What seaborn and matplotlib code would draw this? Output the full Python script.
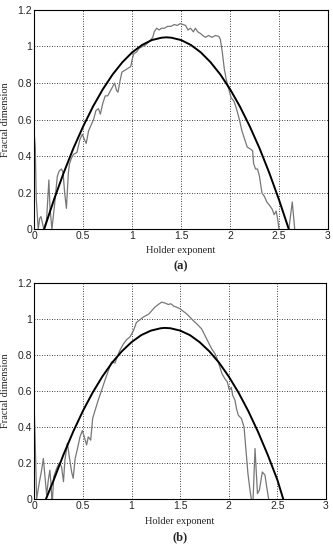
import numpy as np
import pandas as pd
import matplotlib
matplotlib.use('Agg')
import matplotlib.pyplot as plt
import seaborn as sns

# fitted parabola, panel (a)
fit_a_x = [0.1, 0.2, 0.3, 0.4, 0.5, 0.6, 0.7, 0.8, 0.9, 1.0, 1.1, 1.2, 1.3, 1.35,
           1.4, 1.5, 1.6, 1.7, 1.8, 1.9, 2.0, 2.1, 2.2, 2.3, 2.4, 2.5, 2.6]
fit_a_y = [0.0, 0.161, 0.309, 0.444, 0.564, 0.672, 0.766, 0.847, 0.914, 0.968, 1.008,
           1.035, 1.048, 1.05, 1.048, 1.035, 1.008, 0.968, 0.914, 0.847, 0.766, 0.672,
           0.564, 0.444, 0.309, 0.161, 0.0]

# measured spectrum, panel (a)
raw_a_x = [0.0, 0.01, 0.02, 0.04, 0.055, 0.068, 0.085, 0.098, 0.125, 0.149, 0.16, 0.18,
           0.19, 0.21, 0.235, 0.255, 0.278, 0.294, 0.31, 0.328, 0.348, 0.36, 0.38, 0.40,
           0.435, 0.465, 0.49, 0.505, 0.53, 0.555, 0.58, 0.605, 0.63, 0.655, 0.675, 0.70,
           0.725, 0.75, 0.78, 0.80, 0.82, 0.84, 0.855, 0.875, 0.895, 0.925, 0.955, 0.985,
           1.0, 1.015, 1.045, 1.07, 1.105, 1.14, 1.18, 1.21, 1.225, 1.25, 1.275, 1.30,
           1.33, 1.36, 1.395, 1.43, 1.46, 1.49, 1.52, 1.545, 1.57, 1.595, 1.625, 1.645,
           1.67, 1.70, 1.72, 1.75, 1.78, 1.815, 1.85, 1.885, 1.90, 1.92, 1.94, 1.96,
           1.985, 2.01, 2.04, 2.065, 2.095, 2.12, 2.15, 2.175, 2.205, 2.23, 2.24, 2.26,
           2.28, 2.30, 2.325, 2.35, 2.375, 2.405, 2.43, 2.45, 2.47, 2.485, 2.50, 2.53,
           2.58, 2.60, 2.635, 2.66, 2.68]
raw_a_y = [0.52, 0.45, 0.17, 0.0, 0.06, 0.07, 0.03, 0.0, 0.05, 0.27, 0.12, 0.0,
           0.05, 0.15, 0.29, 0.32, 0.33, 0.31, 0.2, 0.115, 0.31, 0.36, 0.39, 0.41,
           0.42, 0.49, 0.52, 0.5, 0.47, 0.54, 0.57, 0.6, 0.65, 0.66, 0.63, 0.69,
           0.73, 0.73, 0.76, 0.78, 0.8, 0.76, 0.75, 0.81, 0.86, 0.87, 0.88, 0.89,
           0.93, 0.96, 0.97, 0.99, 1.0, 1.01, 1.03, 1.05, 1.08, 1.1, 1.09, 1.1,
           1.1, 1.11, 1.11, 1.12, 1.115, 1.125, 1.12, 1.115, 1.09, 1.1, 1.08, 1.1,
           1.08, 1.07, 1.06, 1.05, 1.06, 1.05, 1.06, 1.055, 1.04, 0.97, 0.88, 0.82,
           0.77, 0.72, 0.7, 0.66, 0.6, 0.54, 0.49, 0.45, 0.44, 0.43, 0.36, 0.33,
           0.33, 0.29, 0.2, 0.18, 0.15, 0.13, 0.11, 0.08, 0.1, 0.06, 0.0, -0.1,
           -0.05, 0.0, 0.15, 0.0, -0.1]

# fitted parabola, panel (b)
fit_b_x = [0.12, 0.2, 0.3, 0.4, 0.5, 0.6, 0.7, 0.8, 0.9, 1.0, 1.1, 1.2, 1.3, 1.34,
           1.4, 1.5, 1.6, 1.7, 1.8, 1.9, 2.0, 2.1, 2.2, 2.3, 2.4, 2.5, 2.56]
fit_b_y = [0.0, 0.106, 0.246, 0.374, 0.489, 0.591, 0.68, 0.757, 0.82, 0.871, 0.91,
           0.935, 0.948, 0.95, 0.948, 0.935, 0.91, 0.871, 0.82, 0.757, 0.68, 0.591,
           0.489, 0.374, 0.246, 0.106, 0.0]

# measured spectrum, panel (b)
raw_b_x = [0.0, 0.01, 0.024, 0.05, 0.075, 0.093, 0.113, 0.127, 0.144, 0.16, 0.17, 0.18,
           0.185, 0.2, 0.23, 0.257, 0.28, 0.3, 0.315, 0.34, 0.36, 0.384, 0.40, 0.42,
           0.44, 0.47, 0.494, 0.514, 0.538, 0.555, 0.58, 0.6, 0.624, 0.658, 0.69, 0.727,
           0.76, 0.795, 0.83, 0.853, 0.88, 0.915, 0.95, 0.984, 1.02, 1.05, 1.087, 1.12,
           1.155, 1.18, 1.21, 1.24, 1.275, 1.31, 1.344, 1.378, 1.405, 1.436, 1.464, 1.5,
           1.53, 1.567, 1.6, 1.635, 1.67, 1.72, 1.755, 1.79, 1.824, 1.858, 1.88, 1.91,
           1.93, 1.96, 1.985, 2.006, 2.026, 2.04, 2.064, 2.08, 2.098, 2.13, 2.157, 2.177,
           2.197, 2.218, 2.232, 2.24, 2.25, 2.27, 2.295, 2.315, 2.345, 2.372, 2.39, 2.41,
           2.43]
raw_b_y = [0.49, 0.3, 0.0, 0.087, 0.16, 0.225, 0.105, 0.022, 0.105, 0.16, 0.096, 0.0,
           -0.02, 0.124, 0.17, 0.2, 0.18, 0.096, 0.216, 0.31, 0.235, 0.15, 0.115, 0.225,
           0.27, 0.345, 0.38, 0.345, 0.3, 0.345, 0.327, 0.447, 0.49, 0.55, 0.6, 0.66,
           0.71, 0.76, 0.755, 0.79, 0.825, 0.86, 0.885, 0.9, 0.935, 0.98, 0.995, 1.01,
           1.02, 1.028, 1.047, 1.065, 1.08, 1.093, 1.088, 1.08, 1.084, 1.07, 1.065, 1.056,
           1.043, 1.028, 1.01, 0.99, 0.973, 0.945, 0.908, 0.87, 0.834, 0.807, 0.779, 0.73,
           0.696, 0.668, 0.65, 0.604, 0.62, 0.576, 0.548, 0.5, 0.465, 0.447, 0.4, 0.27,
           0.142, 0.05, 0.0, -0.03, 0.0, 0.28, 0.03, 0.05, 0.15, 0.133, 0.068, 0.0,
           -0.1]

panels = [
    ('(a)', raw_a_x, raw_a_y, fit_a_x, fit_a_y, [0.103, 0.583, 0.882, 0.399], 0.545, 0.516),
    ('(b)', raw_b_x, raw_b_y, fit_b_x, fit_b_y, [0.103, 0.0927, 0.876, 0.393], 0.051, 0.024),
]

sns.set_style('white')
plt.rcParams['font.family'] = ['Liberation Serif', 'DejaVu Serif']

fig = plt.figure(figsize=(3.33, 5.5), dpi=100)

for tag, rx, ry, fx, fy, pos, xl_y, tag_y in panels:
    ax = fig.add_axes(pos)
    raw = pd.DataFrame({'x': rx, 'y': ry})
    fit = pd.DataFrame({'x': fx, 'y': fy})
    sns.lineplot(data=raw, x='x', y='y', ax=ax, sort=False, color='#777777', lw=0.9)
    sns.lineplot(data=fit, x='x', y='y', ax=ax, sort=False, color='black', lw=1.4)
    ax.set_xlim(0, 3)
    ax.set_ylim(0, 1.2)
    ax.set_xticks([0, 0.5, 1, 1.5, 2, 2.5, 3])
    ax.set_xticklabels(['0', '0.5', '1', '1.5', '2', '2.5', '3'])
    ax.set_yticks([0, 0.2, 0.4, 0.6, 0.8, 1, 1.2])
    ax.set_yticklabels(['0', '0.2', '0.4', '0.6', '0.8', '1', '1.2'])
    ax.grid(True, color='black', linestyle=(0, (1, 2)), lw=0.6)
    for s in ax.spines.values():
        s.set_color('black')
        s.set_linewidth(0.8)
    ax.tick_params(direction='in', length=2, width=0.6, labelsize=7.5, pad=1.5)
    for lab in ax.get_xticklabels() + ax.get_yticklabels():
        lab.set_family(['Liberation Sans', 'DejaVu Sans'])
    ax.set_xlabel('')
    ax.set_ylabel('')
    fig.text(pos[0] + pos[2] / 2, xl_y, 'Holder exponent', ha='center', va='center', fontsize=7.5)
    fig.text(0.018, pos[1] + pos[3] / 2, 'Fractal dimension', ha='center', va='center',
             rotation=90, fontsize=7.5)
    fig.text(pos[0] + pos[2] / 2, tag_y, tag, ha='center', va='center', fontsize=9,
             fontweight='bold')

fig.savefig('out.png', dpi=100)
